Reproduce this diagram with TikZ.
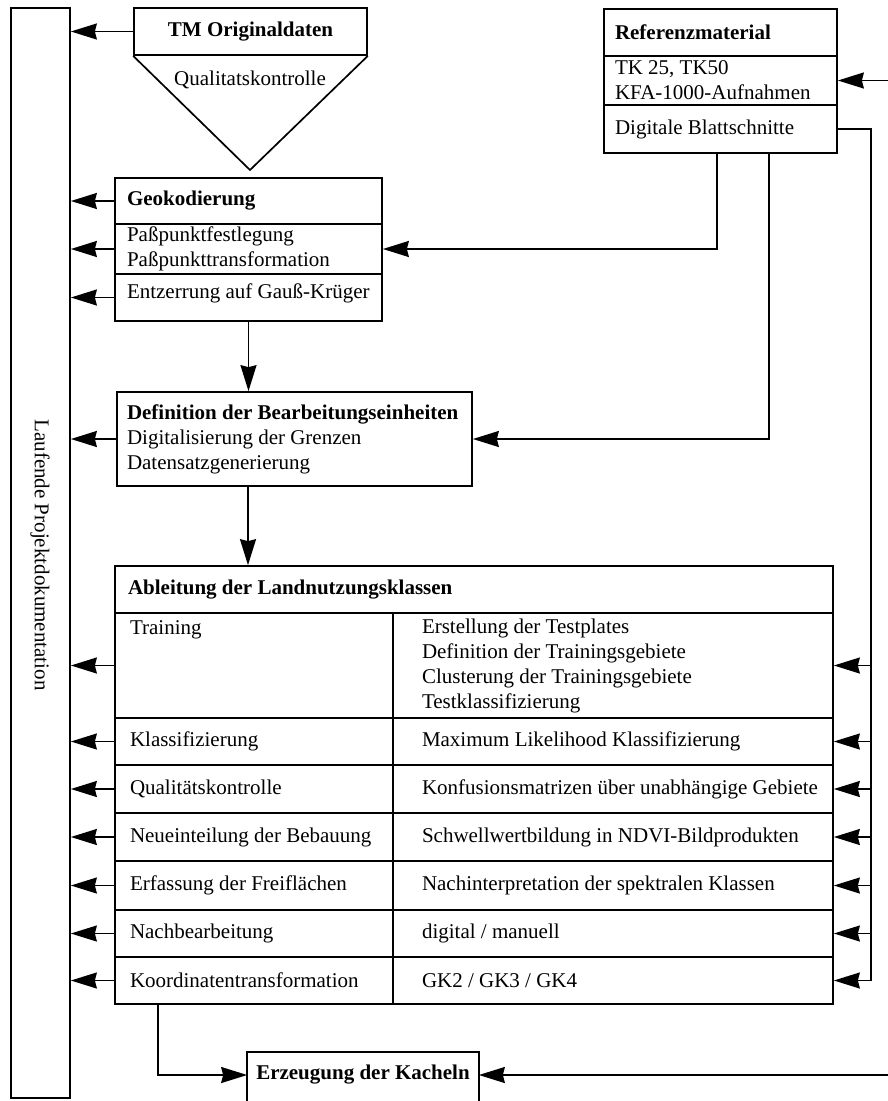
\documentclass[tikz,border=0pt]{standalone}
\usepackage{fontspec}
\setmainfont{Liberation Serif}
\usetikzlibrary{arrows.meta,calc}
\begin{document}
\begin{tikzpicture}[x=1pt,y=-1pt, line width=1.7pt,
  every node/.style={font=\fontsize{21}{25}\selectfont},
  bf/.style={font=\fontsize{21}{25}\selectfont\bfseries},
  cell/.style={draw, rectangle, inner sep=0pt},
  txt/.style={anchor=west, inner sep=0pt, align=left},
  arr/.style={-{Stealth[length=26pt,width=16pt,inset=2pt,fill=black]}}]
\useasboundingbox (0,0) rectangle (888,1101);
% left column
\node[cell, minimum width=59pt, minimum height=1090pt] (col) at (40.5,553) {};
\node[rotate=-90, inner sep=0pt] (coltxt) at (40,555) {Laufende Projektdokumentation};
% TM
\node[cell, bf, minimum width=233pt, minimum height=47pt] (tm) at (250.5,31.5) {TM Originaldaten};
\coordinate (apex) at (250,170);
\draw (tm.south west) -- (apex) -- (tm.south east);
\node (qk) at (250,80) {Qualitatskontrolle};
% Geokodierung
\node[cell, minimum width=267pt, minimum height=46pt] (geo1) at (248.5,201) {};
\node[cell, minimum width=267pt, minimum height=50pt] (geo2) at (248.5,249) {};
\node[cell, minimum width=267pt, minimum height=47pt] (geo3) at (248.5,297.5) {};
\node[txt, bf] (geo1t) at ([xshift=12pt]geo1.west) {Geokodierung};
\node[txt] (geo2t) at ([xshift=12pt]geo2.west) {Paßpunktfestlegung\\Paßpunkttransformation};
\node[txt] (geo3t) at ([xshift=12pt,yshift=4pt]geo3.west) {Entzerrung auf Gauß-Krüger};
% Definition
\node[cell, minimum width=355pt, minimum height=94pt] (def) at (294.5,439) {};
\node[txt] (deft) at ([xshift=10pt]def.west) {\textbf{Definition der Bearbeitungseinheiten}\\Digitalisierung der Grenzen\\Datensatzgenerierung};
% Referenzmaterial
\node[cell, minimum width=233pt, minimum height=47pt] (ref1) at (720.5,32.5) {};
\node[cell, minimum width=233pt, minimum height=49pt] (ref2) at (720.5,80.5) {};
\node[cell, minimum width=233pt, minimum height=48pt] (ref3) at (720.5,129) {};
\node[txt, bf] (ref1t) at ([xshift=11pt]ref1.west) {Referenzmaterial};
\node[txt] (ref2t) at ([xshift=11pt]ref2.west) {TK 25, TK50\\KFA-1000-Aufnahmen};
\node[txt] (ref3t) at ([xshift=11pt]ref3.west) {Digitale Blattschnitte};
% Ableitung
\node[cell, minimum width=718pt, minimum height=47pt] (ablh) at (474,589.5) {};
\node[txt, bf] (ablht) at ([xshift=13pt]ablh.west) {Ableitung der Landnutzungsklassen};
\foreach \i/\cy/\h in {1/665.5/105,2/741.5/47,3/789/48,4/837/48,5/885.5/49,6/933.5/47,7/980.5/47}{
  \node[cell, minimum width=278pt, minimum height=\h pt] (aL\i) at (254,\cy) {};
  \node[cell, minimum width=440pt, minimum height=\h pt] (aR\i) at (613,\cy) {};
}
\node[txt, anchor=north west] (aL1t) at ([xshift=15pt,yshift=-8pt]aL1.north west) {Training};
\node[txt] (aR1t) at ([xshift=29pt]aR1.west) {Erstellung der Testplates\\Definition der Trainingsgebiete\\Clusterung der Trainingsgebiete\\Testklassifizierung};
\node[txt] (aL2t) at ([xshift=15pt]aL2.west) {Klassifizierung};
\node[txt] (aR2t) at ([xshift=29pt]aR2.west) {Maximum Likelihood Klassifizierung};
\node[txt] (aL3t) at ([xshift=15pt]aL3.west) {Qualitätskontrolle};
\node[txt] (aR3t) at ([xshift=29pt]aR3.west) {Konfusionsmatrizen über unabhängige Gebiete};
\node[txt] (aL4t) at ([xshift=15pt]aL4.west) {Neueinteilung der Bebauung};
\node[txt] (aR4t) at ([xshift=29pt]aR4.west) {Schwellwertbildung in NDVI-Bildprodukten};
\node[txt] (aL5t) at ([xshift=15pt]aL5.west) {Erfassung der Freiflächen};
\node[txt] (aR5t) at ([xshift=29pt]aR5.west) {Nachinterpretation der spektralen Klassen};
\node[txt] (aL6t) at ([xshift=15pt]aL6.west) {Nachbearbeitung};
\node[txt] (aR6t) at ([xshift=29pt]aR6.west) {digital / manuell};
\node[txt] (aL7t) at ([xshift=15pt]aL7.west) {Koordinatentransformation};
\node[txt] (aR7t) at ([xshift=29pt]aR7.west) {GK2 / GK3 / GK4};
% Erzeugung
\node[bf, minimum width=230pt, minimum height=44pt, inner sep=0pt] (erz) at (363,1075) {Erzeugung der Kacheln};
\draw ([yshift=-20pt]erz.south west) -- (erz.north west) -- (erz.north east) -- ([yshift=-20pt]erz.south east);
% helper coordinates
\coordinate (bus) at (871,0);
\coordinate (ra) at (717,0);
\coordinate (rb) at (769,0);
\coordinate (dx) at (248,0);
\coordinate (bx) at (158,0);
\coordinate (edge) at (888,0);
% left arrows
\foreach \n in {tm,geo1,geo2,geo3,def,aL1,aL2,aL3,aL4,aL5,aL6,aL7}
  \draw[arr] (\n.west) -- (\n.west -| col.east);
% right bus
\draw (ref3.east) -- (ref3.east -| bus) -- (aR7.east -| bus);
\foreach \n in {aR1,aR2,aR3,aR4,aR5,aR6,aR7}
  \draw[arr] (\n.east -| bus) -- (\n.east);
% reference feeds
\draw[arr] (ref3.south -| ra) -- (ra |- geo2.east) -- (geo2.east);
\draw[arr] (ref3.south -| rb) -- (rb |- def.east) -- (def.east);
% flow
\draw[arr] (geo3.south) -- (geo3.south |- def.north);
\draw[arr] (def.south -| dx) -- (dx |- ablh.north);
\draw[arr] (aL7.south -| bx) -- (bx |- erz.west) -- (erz.west);
% external inputs
\draw[arr] (ref2.east -| edge) -- (ref2.east);
\draw[arr] (erz.east -| edge) -- (erz.east);
\end{tikzpicture}
\end{document}
